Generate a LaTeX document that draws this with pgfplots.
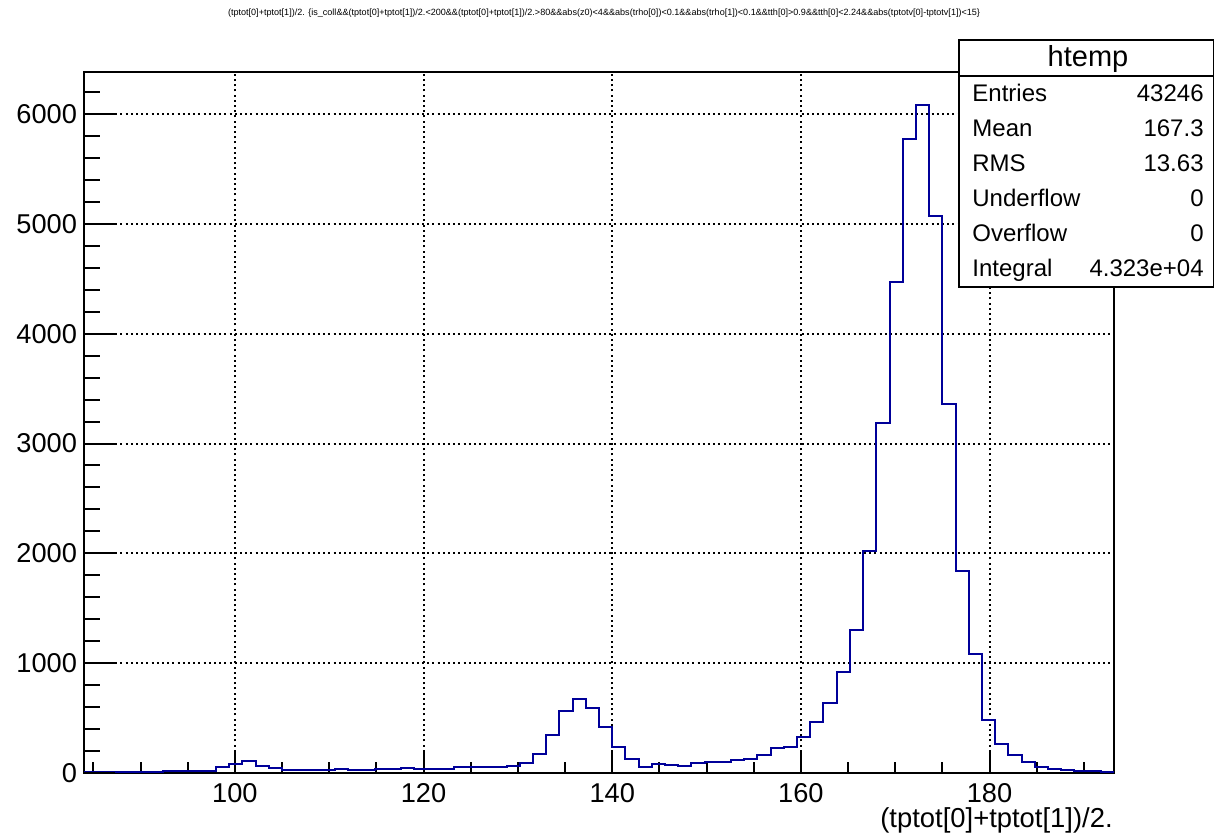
\documentclass[border=0pt]{standalone}
\usepackage{fontspec}
\setmainfont{Liberation Sans}
\usepackage{graphicx}
\usepackage{pgfplots}
\usepackage{pgfplotstable}
\pgfplotsset{compat=1.18}

\definecolor{histblue}{RGB}{0,0,153}

% left bin edge and bin content, 78 bins of width 1.4 from 84 to 193.2
\pgfplotstableread{
x y
84.0 3
85.4 3
86.8 5
88.2 6
89.6 8
91.0 10
92.4 12
93.8 12
95.2 14
96.6 16
98.0 55
99.4 78
100.8 102
102.2 60
103.6 46
105.0 28
106.4 20
107.8 22
109.2 22
110.6 33
112.0 27
113.4 21
114.8 30
116.2 32
117.6 42
119.0 38
120.4 36
121.8 33
123.2 48
124.6 49
126.0 52
127.4 56
128.8 64
130.2 91
131.6 173
133.0 347
134.4 559
135.8 672
137.2 590
138.6 419
140.0 231
141.4 122
142.8 55
144.2 78
145.6 66
147.0 64
148.4 90
149.8 98
151.2 100
152.6 120
154.0 126
155.4 158
156.8 225
158.2 235
159.6 329
161.0 459
162.4 634
163.8 918
165.2 1299
166.6 2021
168.0 3184
169.4 4470
170.8 5778
172.2 6082
173.6 5077
175.0 3357
176.4 1837
177.8 1082
179.2 477
180.6 260
182.0 158
183.4 93
184.8 53
186.2 30
187.6 20
189.0 15
190.4 12
191.8 8
193.2 8
}\histdata

\pgfplotsset{
  rootframe/.style={
    at={(42pt,32.65pt)}, anchor=south west,
    scale only axis, width=515pt, height=350.35pt,
    xmin=84, xmax=193.2, ymin=0, ymax=6386,
    tick pos=left, tick align=inside,
    tick label style={font=\fontsize{13.6}{14}\selectfont, black},
    /pgf/number format/assume math mode=true,
    /pgf/number format/1000 sep={},
    scaled ticks=false,
  },
}

\begin{document}
\begin{tikzpicture}[x=0.5pt,y=0.5pt]
\useasboundingbox (0,0) rectangle (1214,838);

% frame, x axis ticks, grid and histogram
\begin{axis}[
  rootframe,
  axis line style={line width=1pt, black},
  xtick={100,120,...,180},
  minor xtick={85,90,...,190},
  ytick={1000,2000,...,6000},
  yticklabels={},
  major tick length=10.5pt, minor tick length=5.25pt,
  every x tick/.style={black, line width=1pt},
  every y tick/.style={draw=none},
  xticklabel style={yshift=-2.1pt},
  grid=major,
  major grid style={black, line width=1pt, dash pattern=on 1pt off 1.6pt},
]
\addplot[const plot, histblue, line width=1pt] table[x=x, y=y] {\histdata};
\end{axis}

% y axis ticks (longer, as on the vertical axis)
\begin{axis}[
  rootframe,
  axis line style={draw=none},
  xtick=\empty,
  ytick={0,1000,...,6000},
  minor ytick={200,400,...,6200},
  major tick length=15.5pt, minor tick length=7.75pt,
  every y tick/.style={black, line width=1pt},
]
\addplot[draw=none] coordinates {(84,0)};
\end{axis}

% title
\node[inner sep=0] at (604,825) {\resizebox{376pt}{!}{(tptot[0]+tptot[1])/2. \{is\_coll\&\&(tptot[0]+tptot[1])/2.<200\&\&(tptot[0]+tptot[1])/2.>80\&\&abs(z0)<4\&\&abs(trho[0])<0.1\&\&abs(trho[1])<0.1\&\&tth[0]>0.9\&\&tth[0]<2.24\&\&abs(tptotv[0]-tptotv[1])<15\}}};

% x axis title
\node[anchor=base east, inner sep=0, font=\fontsize{13.7}{14}\selectfont] at (1113,10) {(tptot[0]+tptot[1])/2.};

% statistics box
\draw[line width=1pt, fill=white] (959,551) rectangle (1214,798);
\draw[line width=1pt] (959,762.3) -- (1214,762.3);
\node[anchor=base, inner sep=0, font=\fontsize{14.5}{15}\selectfont] at (1088,771.3) {htemp};
\begin{scope}[every node/.style={inner sep=0, font=\fontsize{12}{12}\selectfont}]
\node[anchor=base west] at (972,736) {Entries};   \node[anchor=base east] at (1204,736) {43246};
\node[anchor=base west] at (972,701) {Mean};      \node[anchor=base east] at (1204,701) {167.3};
\node[anchor=base west] at (972,666) {RMS};       \node[anchor=base east] at (1204,666) {13.63};
\node[anchor=base west] at (972,631) {Underflow}; \node[anchor=base east] at (1204,631) {0};
\node[anchor=base west] at (972,596) {Overflow};  \node[anchor=base east] at (1204,596) {0};
\node[anchor=base west] at (972,561) {Integral};  \node[anchor=base east] at (1204,561) {4.323e+04};
\end{scope}
\end{tikzpicture}
\end{document}
